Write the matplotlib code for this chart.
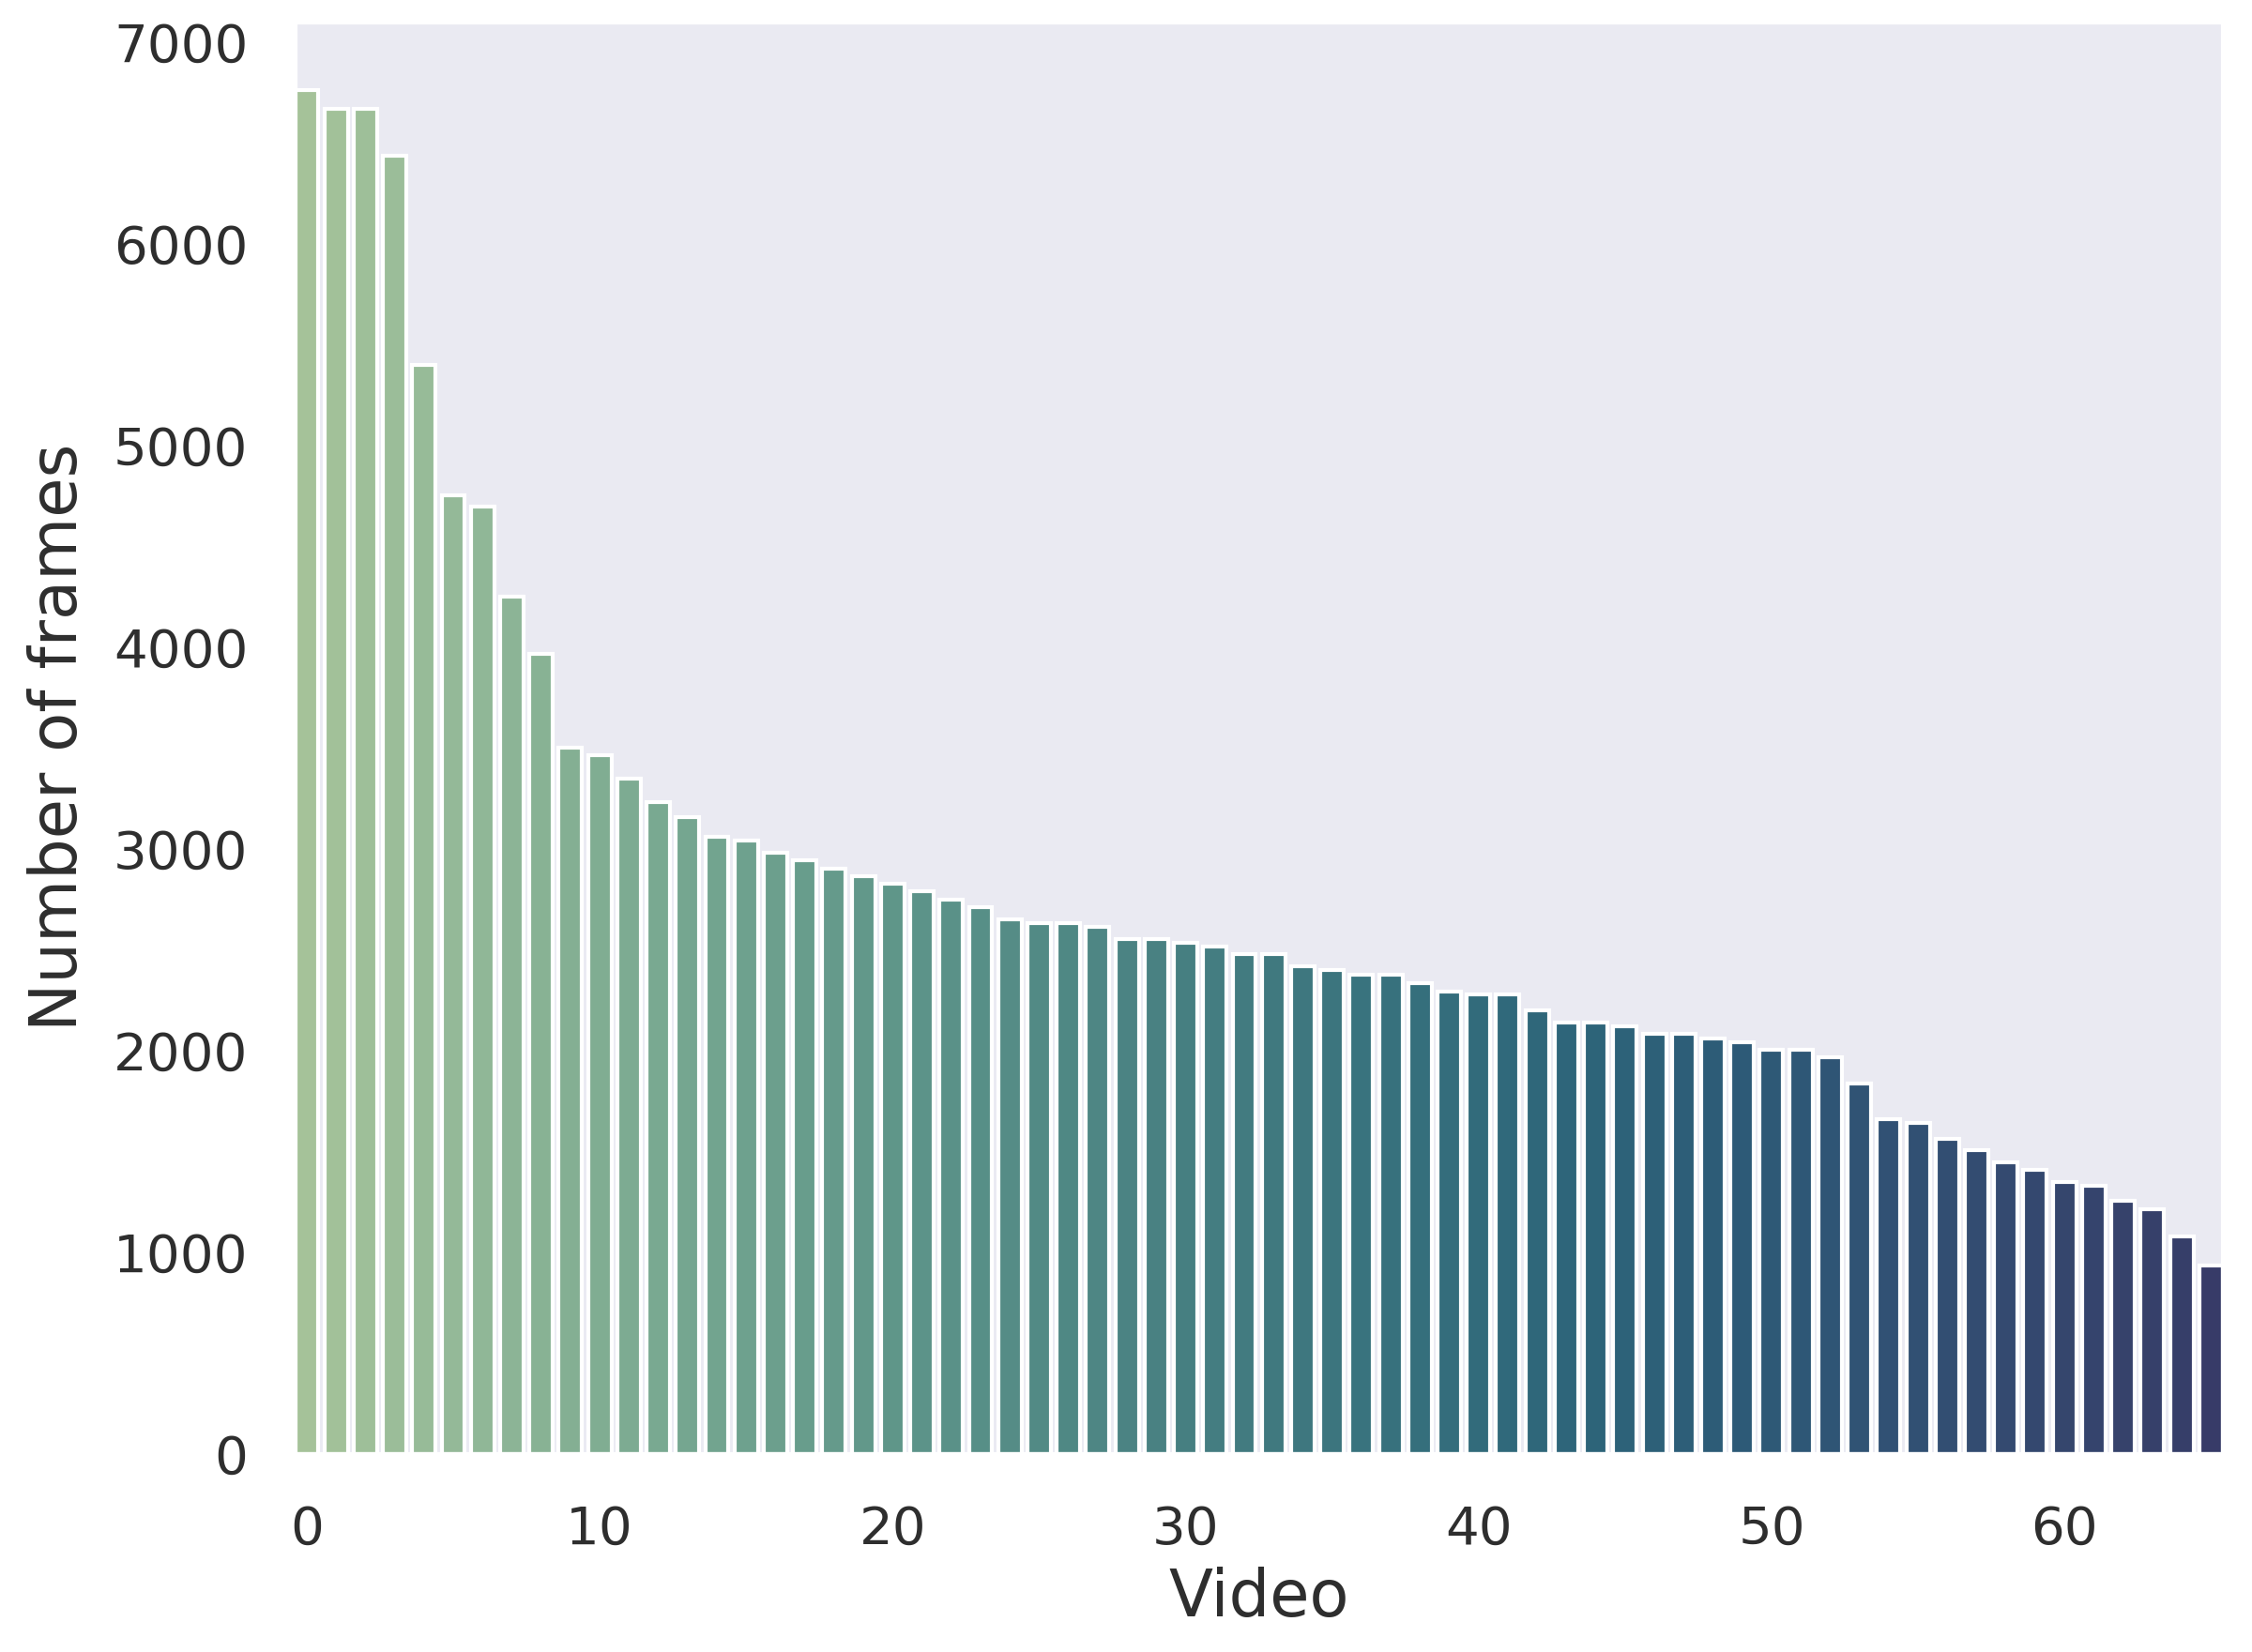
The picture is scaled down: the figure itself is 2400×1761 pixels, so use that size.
import matplotlib
matplotlib.use("Agg")
import matplotlib.pyplot as plt
import numpy as np
import seaborn as sns

# frames per video, sorted descending
videos = np.arange(66)
frames = [
    6765, 6668, 6668, 6437, 5399, 4752, 4696, 4252, 3966, 3503,
    3464, 3350, 3233, 3156, 3062, 3040, 2981, 2943, 2902, 2864,
    2826, 2788, 2748, 2710, 2652, 2631, 2631, 2612, 2555, 2555,
    2536, 2514, 2479, 2479, 2419, 2398, 2378, 2378, 2335, 2292,
    2278, 2278, 2198, 2139, 2139, 2121, 2082, 2082, 2060, 2043,
    2004, 2004, 1966, 1835, 1660, 1640, 1560, 1504, 1445, 1406,
    1349, 1331, 1253, 1214, 1080, 932,
]
xticks = [0, 10, 20, 30, 40, 50, 60]
yticks = [0, 1000, 2000, 3000, 4000, 5000, 6000, 7000]

sns.set_theme(style="dark")
plt.rcParams["font.family"] = ["DejaVu Sans"]

colors = [sns.desaturate(c, 0.7) for c in sns.color_palette("crest", len(frames))]

fig = plt.figure(figsize=(8, 5.87), dpi=300)
ax = fig.add_axes([0.131, 0.12, 0.856, 0.867])
ax.bar(videos, frames, width=0.8, color=colors, edgecolor="white", linewidth=1.0)
ax.set_xlim(-0.4, len(frames) - 0.6)
ax.set_ylim(0, max(frames) * 1.05)
ax.set_xticks(xticks)
ax.set_yticks(yticks)
ax.tick_params(axis="both", labelsize=13.5, colors="#2e2e2e")
ax.tick_params(axis="x", pad=7)
ax.tick_params(axis="y", pad=6)
ax.set_xlabel("Video", fontsize=16.5, color="#2e2e2e", labelpad=3)
ax.set_ylabel("Number of frames", fontsize=16.5, color="#2e2e2e", labelpad=6)

fig.savefig("out.png", dpi=300)
